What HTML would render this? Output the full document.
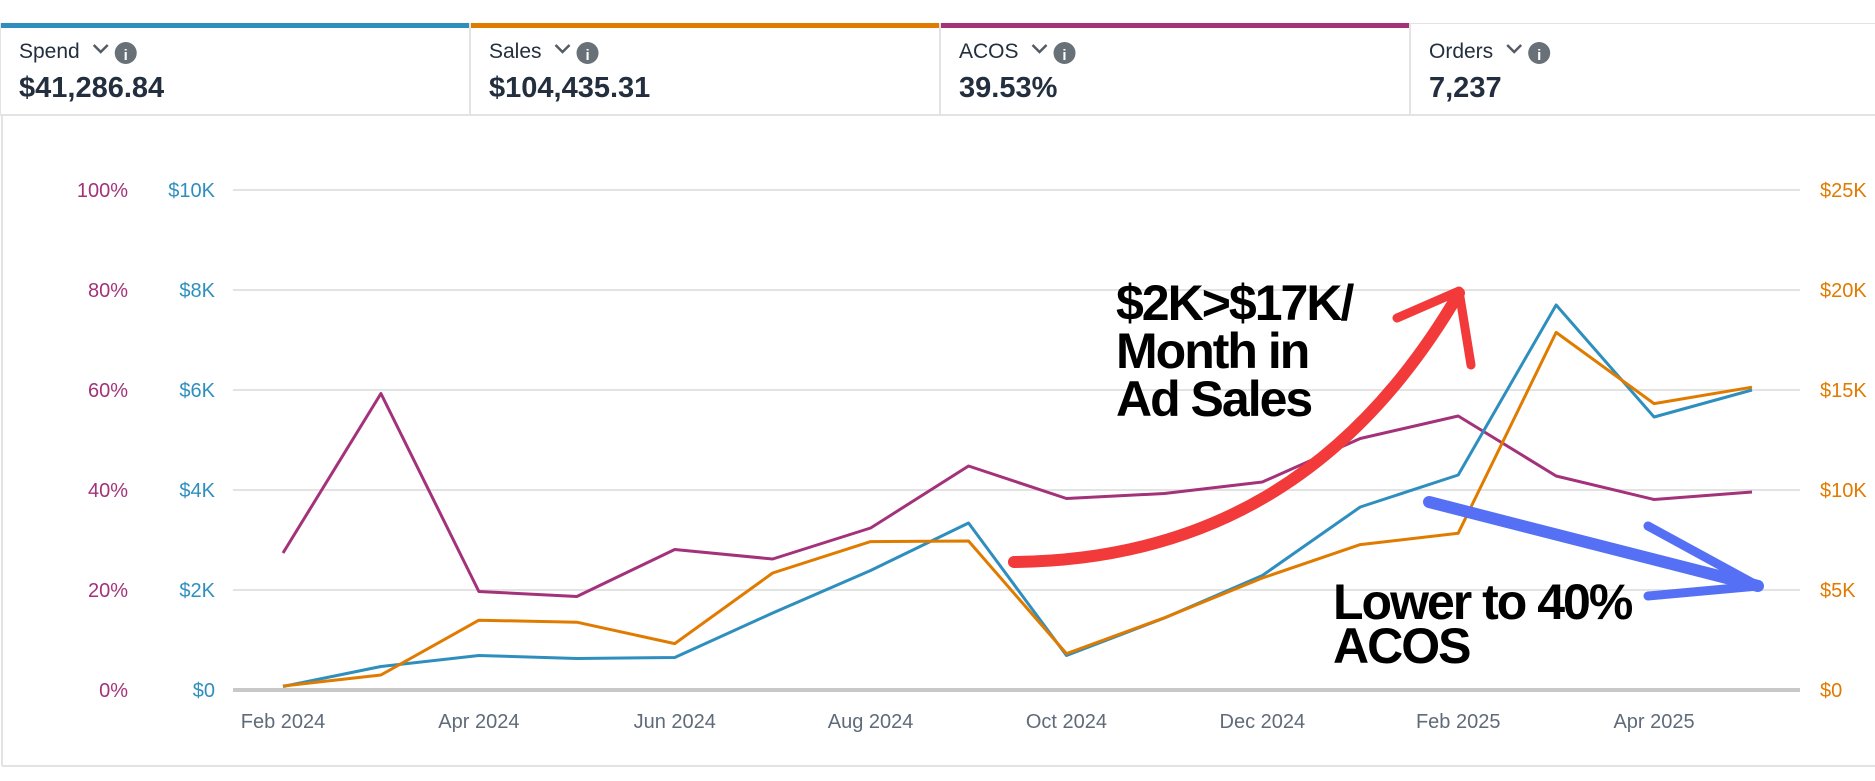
<!DOCTYPE html>
<html><head><meta charset="utf-8"><style>
body{margin:0;width:1875px;height:781px;background:#fff;overflow:hidden;font-family:"Liberation Sans",sans-serif;}
svg{position:absolute;left:0;top:0}
</style></head><body>
<svg width="1875" height="781">
<g id="hdr"></g>
<line x1="2" y1="115" x2="2" y2="766" stroke="#e3e3e3" stroke-width="2"/>
<line x1="2" y1="766" x2="1875" y2="766" stroke="#e3e3e3" stroke-width="2"/>
<g id="grid"></g><g id="series"></g>
<g font-family="'Liberation Sans',sans-serif" font-weight="bold" fill="#000">
<path d="M1014 562 C1200 560 1350 480 1459 293" fill="none" stroke="#f23a3a" stroke-width="12" stroke-linecap="round"/>
<path d="M1397 318 L1459 291 L1471 365" fill="none" stroke="#f23a3a" stroke-width="9" stroke-linecap="round" stroke-linejoin="round"/>
<path d="M1429 502 L1758 586" fill="none" stroke="#5570f5" stroke-width="12" stroke-linecap="round"/>
<path d="M1648 526 L1758 586 L1648 596" fill="none" stroke="#5570f5" stroke-width="9" stroke-linecap="round" stroke-linejoin="round"/>
<text x="1116" y="320" font-size="50" letter-spacing="-2"><tspan x="1116">$2K&gt;$17K/</tspan><tspan x="1116" dy="48">Month in</tspan><tspan x="1116" dy="48">Ad Sales</tspan></text>
<text x="1333" y="619" font-size="50" letter-spacing="-2"><tspan x="1333">Lower to 40%</tspan><tspan x="1333" dy="44">ACOS</tspan></text>
</g>
</svg>
<script>
const months=["Feb 2024","Mar 2024","Apr 2024","May 2024","Jun 2024","Jul 2024","Aug 2024","Sep 2024","Oct 2024","Nov 2024","Dec 2024","Jan 2025","Feb 2025","Mar 2025","Apr 2025","May 2025"];
const spend=[0.07,0.47,0.69,0.63,0.65,1.54,2.39,3.34,0.69,1.44,2.29,3.66,4.30,7.70,5.46,6.0];
const sales=[0.2,0.75,3.49,3.39,2.32,5.85,7.42,7.45,1.82,3.61,5.6,7.27,7.84,17.88,14.32,15.14];
const acos=[27.4,59.3,19.7,18.7,28.1,26.2,32.4,44.8,38.3,39.3,41.6,50.3,54.8,42.8,38.1,39.6];
const acosTicks=["0%","20%","40%","60%","80%","100%"];
const spendTicks=["$0","$2K","$4K","$6K","$8K","$10K"];
const salesTicks=["$0","$5K","$10K","$15K","$20K","$25K"];
const cards=[["Spend","$41,286.84","#2e8fbf"],["Sales","$104,435.31","#e07b00"],["ACOS","39.53%","#a3327a"],["Orders","7,237",null]];
const NS="http://www.w3.org/2000/svg";
function mk(t,a,p){const e=document.createElementNS(NS,t);for(const k in a)e.setAttribute(k,a[k]);p.appendChild(e);return e;}
const x0=283,x1=1752,yB=690,yT=190;
const xS=i=>x0+i*(x1-x0)/(months.length-1);
const yP=v=>yB-(v/100)*(yB-yT);
const yS=v=>yB-(v/10)*(yB-yT);
const ySa=v=>yB-(v/25)*(yB-yT);
const hdr=document.getElementById('hdr');
cards.forEach((c,i)=>{
 const x=i*470;
 const g=mk('g',{},hdr);
 
 
 if(c[2]) mk('rect',{x:x,y:23,width:470,height:5,fill:c[2]},g);
 else mk('rect',{x:x,y:23,width:470,height:1,fill:'#e3e3e3'},g);
 mk('line',{x1:x,y1:23,x2:x,y2:115,stroke:'#e3e3e3','stroke-width':2},g);
 const t=mk('text',{x:x+19,y:58,'font-size':21,fill:'#232f3e'},g);t.textContent=c[0];
 const w=x+19+t.getComputedTextLength();
 mk('path',{d:`M${w+14} 45 l7 7 l7 -7`,fill:'none',stroke:'#545b64','stroke-width':2.5},g);
 mk('circle',{cx:w+46,cy:53,r:11,fill:'#687078'},g);
 const it=mk('text',{x:w+46,y:60,'font-size':15,'font-weight':'bold','text-anchor':'middle',fill:'#fff'},g);it.textContent='i';
 const v=mk('text',{x:x+19,y:97,'font-size':29,'font-weight':'bold',fill:'#232f3e'},g);v.textContent=c[1];
});
mk('line',{x1:0,y1:115,x2:1875,y2:115,stroke:'#e3e3e3','stroke-width':2},hdr);
const grid=document.getElementById('grid');
for(let k=0;k<6;k++){
 const y=yP(k*20);
 const l=mk('line',{x1:233,y1:y,x2:1800,y2:y,stroke:k==0?'#c8c8c8':'#e3e3e3','stroke-width':k==0?4:2},grid);
 
 
 const a=mk('text',{x:128,y:y+7,'font-size':20,fill:'#a3327a','text-anchor':'end'},grid);a.textContent=acosTicks[k];
 
 
 const b=mk('text',{x:215,y:y+7,'font-size':20,fill:'#2e8fbf','text-anchor':'end'},grid);b.textContent=spendTicks[k];
 
 
 const c=mk('text',{x:1820,y:y+7,'font-size':20,fill:'#e07b00'},grid);c.textContent=salesTicks[k];
 
 
}
months.forEach((m,i)=>{ if(i%2==0){
 const t=mk('text',{x:xS(i),y:728,'font-size':20,fill:'#5f6b7a','text-anchor':'middle'},grid);t.textContent=m;
 
 
}});
const ser=document.getElementById('series');
[[acos,yP,'#a3327a','acos-line'],[spend,yS,'#2e8fbf','spend-line'],[sales,ySa,'#e07b00','sales-line']].forEach(s=>{
 const p=mk('polyline',{points:s[0].map((v,i)=>xS(i)+','+s[1](v)).join(' '),fill:'none',stroke:s[2],'stroke-width':3,'stroke-linejoin':'round'},ser);
 
 
});
</script>
</body></html>
